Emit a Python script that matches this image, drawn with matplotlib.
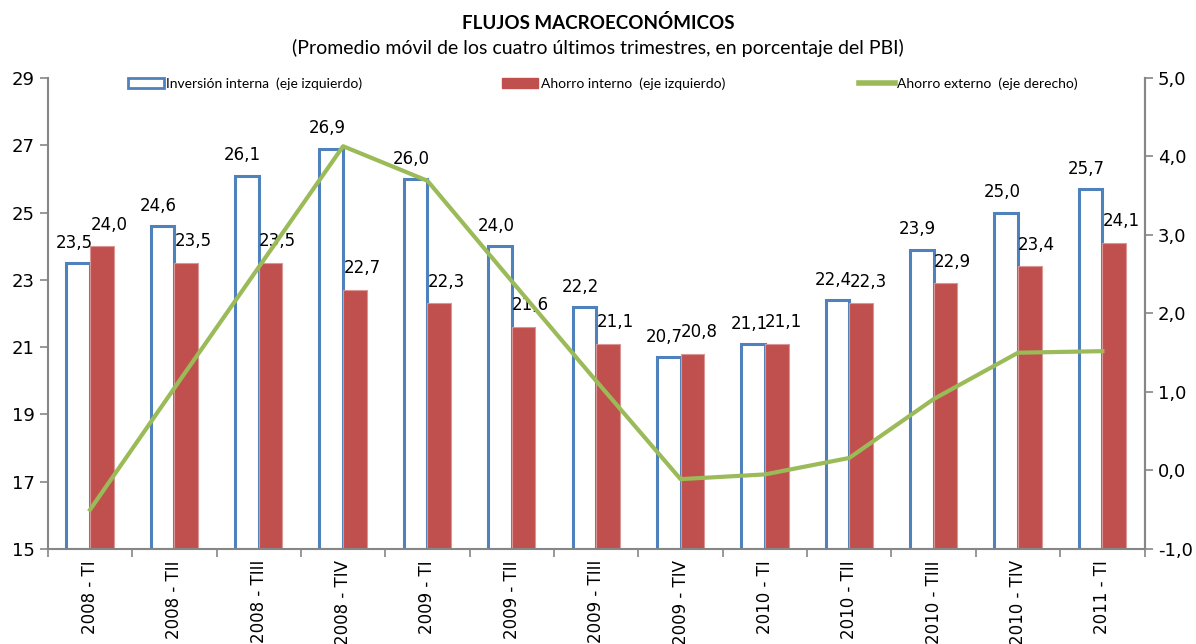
import numpy as np
import matplotlib.pyplot as plt
from matplotlib.ticker import FuncFormatter, FixedLocator
from matplotlib.patches import Patch
from matplotlib.lines import Line2D

# data
categorias = ["2008 - TI", "2008 - TII", "2008 - TIII", "2008 - TIV",
              "2009 - TI", "2009 - TII", "2009 - TIII", "2009 - TIV",
              "2010 - TI", "2010 - TII", "2010 - TIII", "2010 - TIV",
              "2011 - TI"]
inversion_interna = [23.5, 24.6, 26.1, 26.9, 26.0, 24.0, 22.2, 20.7, 21.1, 22.4, 23.9, 25.0, 25.7]
ahorro_interno = [24.0, 23.5, 23.5, 22.7, 22.3, 21.6, 21.1, 20.8, 21.1, 22.3, 22.9, 23.4, 24.1]
ahorro_externo = [-0.50, 1.05, 2.59, 4.13, 3.69, 2.41, 1.14, -0.11, -0.05, 0.16, 0.91, 1.50, 1.52]

AZUL = "#4F81BD"
ROJO = "#C0504D"
VERDE = "#9BBB59"
GRIS = "#868686"

plt.rcParams["font.family"] = ["DejaVu Sans"]

fig = plt.figure(figsize=(11.96, 6.44), dpi=100)
ax = fig.add_axes([0.040, 0.1475, 0.917, 0.7315])

x = np.arange(len(categorias))
w = 0.28
ax.bar(x - w / 2, np.array(inversion_interna) - 15, w, bottom=15, facecolor="white",
       edgecolor=AZUL, linewidth=2.2, zorder=2)
ax.bar(x + w / 2, np.array(ahorro_interno) - 15, w, bottom=15, facecolor=ROJO,
       edgecolor="#D99694", linewidth=0.8, zorder=2)

coma = lambda v: f"{v:.1f}".replace(".", ",")
for i in range(len(x)):
    ax.annotate(coma(inversion_interna[i]), (x[i] - w / 2, inversion_interna[i]),
                xytext=(-3, 8), textcoords="offset points", ha="center", va="bottom",
                fontsize=12, zorder=5)
    ax.annotate(coma(ahorro_interno[i]), (x[i] + w / 2, ahorro_interno[i]),
                xytext=(5, 9), textcoords="offset points", ha="center", va="bottom",
                fontsize=12, zorder=5)

ax.set_xlim(-0.5, len(x) - 0.5)
ax.set_ylim(15, 29)
ax.set_yticks(range(15, 30, 2))
ax.set_xticks(x)
ax.set_xticklabels(categorias, rotation=90, fontsize=12)
ax.xaxis.set_minor_locator(FixedLocator(np.arange(-0.5, len(x), 1)))
ax.tick_params(axis="x", which="major", length=0, pad=8)
ax.tick_params(axis="x", which="minor", length=6, color=GRIS, width=1.2)
ax.tick_params(axis="y", length=6, color=GRIS, width=1.2, labelsize=13)
ax.spines["top"].set_visible(False)
for s in ["left", "bottom", "right"]:
    ax.spines[s].set_color(GRIS)
    ax.spines[s].set_linewidth(1.5)

ax2 = ax.twinx()
ax2.plot(x, ahorro_externo, color=VERDE, linewidth=3, zorder=4)
ax2.set_ylim(-1, 5)
ax2.set_yticks(range(-1, 6))
ax2.yaxis.set_major_formatter(FuncFormatter(lambda v, p: coma(v)))
ax2.tick_params(axis="y", length=6, color=GRIS, width=1.2, labelsize=13)
for s in ["top", "left", "bottom"]:
    ax2.spines[s].set_visible(False)
ax2.spines["right"].set_color(GRIS)
ax2.spines["right"].set_linewidth(1.5)

# legend entries placed one by one, like the Excel legend
handles = [Patch(facecolor="white", edgecolor=AZUL, linewidth=2),
           Patch(facecolor=ROJO, edgecolor=ROJO),
           Line2D([0], [0], color=VERDE, linewidth=4)]
labels = ["Inversión interna  (eje izquierdo)",
          "Ahorro interno  (eje izquierdo)",
          "Ahorro externo  (eje derecho)"]
for h, l, xpos in zip(handles, labels, [0.107, 0.420, 0.718]):
    fig.legend([h], [l], loc="center left", bbox_to_anchor=(xpos, 0.870),
               frameon=False, handlelength=2.6, handleheight=0.7, handletextpad=0.15,
               borderpad=0, borderaxespad=0,
               prop={"family": ["Lato", "DejaVu Sans"], "size": 10})

fig.text(0.5, 0.965, "FLUJOS MACROECONÓMICOS", ha="center", va="center",
         fontsize=13.5, fontweight="bold", family=["Lato", "DejaVu Sans"])
fig.text(0.5, 0.925, "(Promedio móvil de los cuatro últimos trimestres, en porcentaje del PBI)",
         ha="center", va="center", fontsize=14, family=["Lato", "DejaVu Sans"])

fig.savefig("out.png", dpi=100)
